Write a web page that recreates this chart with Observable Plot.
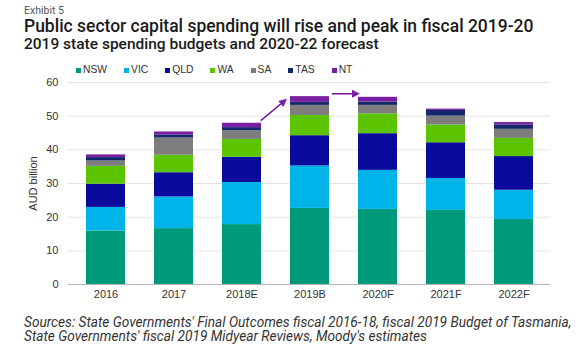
<!DOCTYPE html>
<html>
<head>
<meta charset="utf-8">
<script src="https://cdn.jsdelivr.net/npm/d3@7"></script>
<script src="https://cdn.jsdelivr.net/npm/@observablehq/plot@0.6"></script>
<style>
  html, body { margin: 0; padding: 0; background: #fff; }
  #wrap { position: relative; width: 580px; height: 352px; overflow: hidden; font-family: Roboto, "Open Sans", sans-serif; }
  .abs { position: absolute; white-space: nowrap; overflow: visible; }
  #exhibit { left: 24px; top: 4.5px; height: 12px; font-size: 10.5px; line-height: 12px; color: #555; }
  #title { left: 24px; top: 17.5px; height: 17px; font-size: 15px; line-height: 17px; font-weight: 500; color: #1a1a1a; }
  #subtitle { left: 24px; top: 37px; height: 15px; font-size: 13.5px; line-height: 15px; font-weight: 500; color: #1a1a1a; }
  #legend { left: 76px; top: 64px; display: flex; gap: 17px; font-family: "Liberation Sans", Arial, sans-serif; font-size: 10.3px; line-height: 12px; color: #333; }
  #legend .item { display: flex; align-items: center; }
  #legend .sw { width: 5px; height: 5px; margin-right: 2px; }
  #chart { left: 0; top: 60px; }
  .foot { left: 24px; height: 13px; font-size: 12px; line-height: 13px; font-style: italic; color: #333; }
  #f1 { top: 315.5px; }
  #f2 { top: 330px; }
</style>
</head>
<body>
<div id="wrap">
  <div id="exhibit" class="abs">Exhibit 5</div>
  <div id="title" class="abs">Public sector capital spending will rise and peak in fiscal 2019-20</div>
  <div id="subtitle" class="abs">2019 state spending budgets and 2020-22 forecast</div>
  <div id="legend" class="abs"></div>
  <div id="chart" class="abs"></div>
  <div id="f1" class="abs foot">Sources: State Governments' Final Outcomes fiscal 2016-18, fiscal 2019 Budget of Tasmania,</div>
  <div id="f2" class="abs foot">State Governments' fiscal 2019 Midyear Reviews, Moody's estimates</div>
</div>
<script>
// ---- data ----
const years = ["2016", "2017", "2018E", "2019B", "2020F", "2021F", "2022F"];
const states = ["NSW", "VIC", "QLD", "WA", "SA", "TAS", "NT"];
const nsw = [15.9, 16.6, 17.8, 22.6, 22.3, 22.0, 19.3];
const vic = [7.0, 9.4, 12.5, 12.6, 11.6, 9.5, 8.7];
const qld = [6.9, 7.2, 7.5, 9.0, 10.9, 10.6, 10.0];
const wa  = [5.3, 5.2, 5.3, 6.0, 5.9, 5.3, 5.4];
const sa  = [1.6, 5.1, 2.6, 3.0, 2.5, 2.6, 2.7];
const tas = [1.0, 0.9, 0.9, 0.9, 1.0, 1.7, 1.3];
const nt  = [0.8, 0.9, 1.3, 1.7, 1.4, 0.4, 0.7];
const yTicks = [0, 10, 20, 30, 40, 50, 60];
const stateColors = ["#00997a", "#00b4ea", "#0a0a9c", "#5cc400", "#7d7d7d", "#13296a", "#7a1fa2"];
// annotation arrows (from bar -> to bar, value at start, value at tip)
const arrowFrom = ["2018E", "2019B"];
const arrowTo = ["2019B", "2020F"];
const arrowY1 = [48.5, 56.5];
const arrowY2 = [55.0, 56.5];

const series = [nsw, vic, qld, wa, sa, tas, nt];
const table = [];
years.forEach((yr, i) => states.forEach((st, j) => table.push({year: yr, state: st, value: series[j][i]})));
const arrows = arrowFrom.map((f, i) => ({from: f, to: arrowTo[i], y1: arrowY1[i], y2: arrowY2[i]}));

// legend
const legend = document.getElementById("legend");
states.forEach((s, i) => {
  const it = document.createElement("div"); it.className = "item";
  const sw = document.createElement("span"); sw.className = "sw"; sw.style.background = stateColors[i];
  const tx = document.createElement("span"); tx.textContent = s;
  it.appendChild(sw); it.appendChild(tx); legend.appendChild(it);
});

const PAD = 0.43;
function arrowMark(index, scales) {
  const sc = (scales && scales.x) ? scales : index;
  const x = sc.x, y = sc.y;
  const step = x(years[1]) - x(years[0]);
  const bw = step * (1 - PAD);
  const g = d3.create("svg:g");
  const col = stateColors[6];
  arrows.forEach((a, i) => {
    const x1 = x(a.from) + bw + (i === 0 ? 0 : 3);
    const x2 = x(a.to) - (i === 0 ? 3 : -2);
    const y1 = y(a.y1), y2 = y(a.y2);
    const ang = Math.atan2(y2 - y1, x2 - x1);
    const L = 8, W = 4;
    const bx = x2 - L * Math.cos(ang), by = y2 - L * Math.sin(ang);
    g.append("line").attr("x1", x1).attr("y1", y1).attr("x2", bx).attr("y2", by)
      .attr("stroke", col).attr("stroke-width", 1.6);
    const px = -Math.sin(ang) * W, py = Math.cos(ang) * W;
    g.append("polygon")
      .attr("points", `${x2},${y2} ${bx + px},${by + py} ${bx - px},${by - py}`)
      .attr("fill", col);
  });
  return g.node();
}

const chart = Plot.plot({
  width: 580,
  height: 245,
  marginTop: 22,
  marginBottom: 21,
  marginLeft: 68,
  marginRight: 30,
  style: {fontFamily: "'Liberation Sans', Arial, sans-serif", fontSize: "11px", color: "#333", background: "transparent", overflow: "visible"},
  x: {domain: years, paddingInner: PAD, paddingOuter: PAD / 2, align: 0.5, label: null},
  y: {domain: [0, 60], ticks: yTicks, label: null},
  color: {domain: states, range: stateColors},
  marks: [
    Plot.gridY(yTicks, {stroke: "#e3e3e3", strokeOpacity: 1}),
    Plot.barY(table, {x: "year", y: "value", fill: "state"}),
    Plot.ruleY([0], {stroke: "#b5b5b5", strokeWidth: 1}),
    Plot.axisX({tickSize: 0, tickPadding: 6, fontSize: 11, label: null}),
    Plot.axisY(yTicks, {tickSize: 0, tickPadding: 10, fontSize: 11, label: "AUD billion", labelAnchor: "center", labelArrow: "none", labelOffset: 39}),
    arrowMark
  ]
});
document.getElementById("chart").appendChild(chart);

// fit text widths to reference
function fit(el, target) {
  const w = el.getBoundingClientRect().width;
  if (w > 0) {
    const fs = parseFloat(getComputedStyle(el).fontSize);
    return fs * target / w;
  }
  return null;
}
const tfs = fit(document.getElementById("title"), 510);
if (tfs) document.getElementById("title").style.fontSize = tfs + "px";
const sfs = fit(document.getElementById("subtitle"), 355);
if (sfs) document.getElementById("subtitle").style.fontSize = sfs + "px";
const ffs = fit(document.getElementById("f1"), 548);
if (ffs) { document.getElementById("f1").style.fontSize = ffs + "px"; document.getElementById("f2").style.fontSize = ffs + "px"; }
</script>
</body>
</html>
